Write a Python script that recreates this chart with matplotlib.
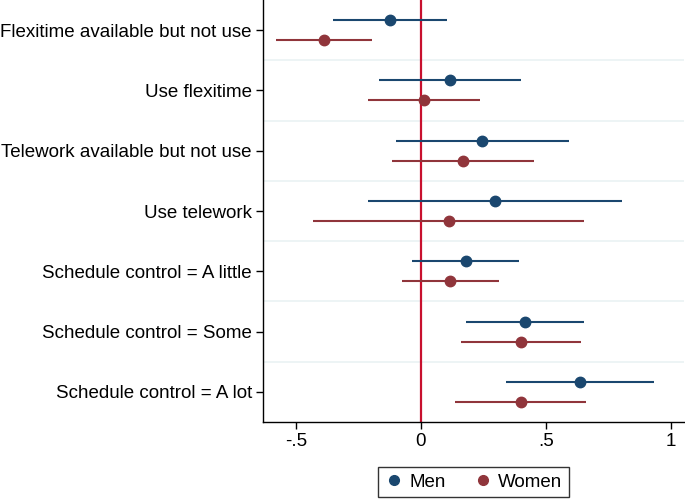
import numpy as np
import matplotlib
matplotlib.use('Agg')
import matplotlib.pyplot as plt
from matplotlib.lines import Line2D

plt.rcParams['font.family'] = ['Liberation Sans', 'DejaVu Sans']

labels = ['Flexitime available but not use', 'Use flexitime',
          'Telework available but not use', 'Use telework',
          'Schedule control = A little', 'Schedule control = Some',
          'Schedule control = A lot']

men_b = [-0.124, 0.116, 0.245, 0.297, 0.179, 0.416, 0.635]
men_lo = [-0.352, -0.167, -0.101, -0.211, -0.035, 0.180, 0.341]
men_hi = [0.104, 0.400, 0.591, 0.805, 0.391, 0.653, 0.931]

women_b = [-0.388, 0.012, 0.167, 0.111, 0.117, 0.399, 0.399]
women_lo = [-0.581, -0.211, -0.115, -0.431, -0.077, 0.159, 0.137]
women_hi = [-0.195, 0.237, 0.451, 0.651, 0.312, 0.639, 0.659]

men_col = '#1a476f'
women_col = '#90353b'

fig = plt.figure(figsize=(6.85, 5.0), dpi=100)
ax = fig.add_axes([263 / 685, 1 - 422 / 500, 421 / 685, 422 / 500])

pos = np.arange(1, len(labels) + 1)
off = 10 / 60.0

# light separators between groups
for g in pos[:-1] + 0.5:
    ax.axhline(g, color='#eaf2f3', lw=1.2, zorder=0)

ax.axvline(0, color='#c8102e', lw=1.6, zorder=1)

ax.hlines(pos - off, men_lo, men_hi, color=men_col, lw=1.5, zorder=2)
ax.plot(men_b, pos - off, 'o', color=men_col, ms=7.5, zorder=3)
ax.hlines(pos + off, women_lo, women_hi, color=women_col, lw=1.5, zorder=2)
ax.plot(women_b, pos + off, 'o', color=women_col, ms=7.5, zorder=3)

ax.set_xlim(-0.632, 1.052)
ax.set_ylim(7.5, 0.5)
ax.set_yticks(pos)
ax.set_yticklabels(labels, fontsize=13.5)
ax.set_xticks([-0.5, 0, 0.5, 1])
ax.set_xticklabels(['-.5', '0', '.5', '1'], fontsize=13.5)
ax.tick_params(length=5, width=1, color='black', pad=3)

for s in ['top', 'right']:
    ax.spines[s].set_visible(False)
for s in ['left', 'bottom']:
    ax.spines[s].set_linewidth(1)

handles = [Line2D([], [], marker='o', ls='', color=men_col, ms=7),
           Line2D([], [], marker='o', ls='', color=women_col, ms=7)]
leg = fig.legend(handles, ['Men', 'Women'], loc='center',
                 bbox_to_anchor=(473.5 / 685, 1 - 482 / 500), ncol=2,
                 fontsize=13.5, frameon=True, fancybox=False,
                 handletextpad=0.3, columnspacing=1.5, borderpad=0.35,
                 handlelength=1.0)
leg.get_frame().set_edgecolor('black')
leg.get_frame().set_linewidth(1)

fig.savefig('out.png', dpi=100)
